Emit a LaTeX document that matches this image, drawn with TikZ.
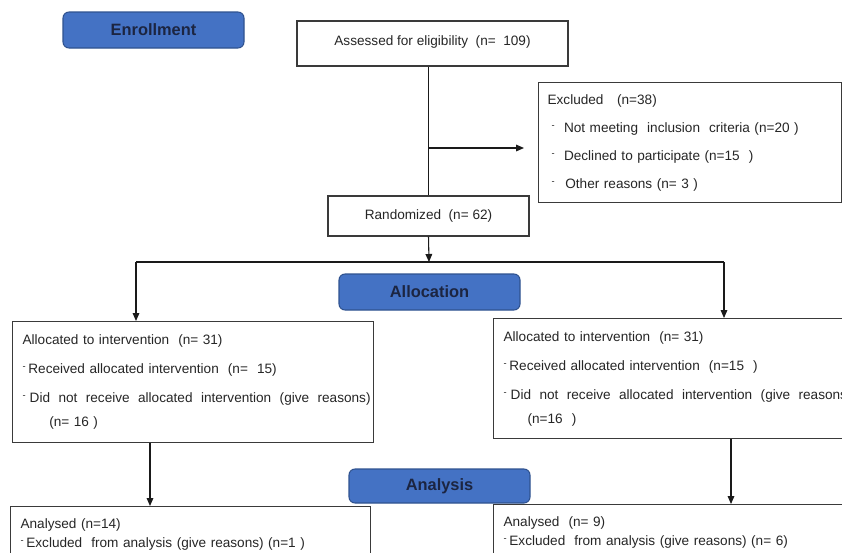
\documentclass[tikz,border=0pt]{standalone}
\usepackage{fontspec}
\setmainfont{Liberation Sans}
\usepackage{xcolor}
\usepackage{tikz}
\usetikzlibrary{positioning, arrows.meta, calc}
\definecolor{stageFill}{HTML}{4472C4}
\definecolor{stageEdge}{HTML}{2F528F}
\definecolor{stageText}{HTML}{1C2541}
\definecolor{boxEdge}{HTML}{3A3A3A}
\definecolor{lineInk}{HTML}{1A1A1A}
\definecolor{bodyText}{HTML}{262626}
\newcommand{\dsh}{\raisebox{0.55ex}{\fontsize{7}{7}\selectfont -}}
\newcommand{\widesp}[1]{\mbox{\spaceskip=0.62em plus 0.1em\relax #1}}

\begin{document}
\begin{tikzpicture}[x=0.75pt, y=-0.75pt,
  every node/.style={font=\fontsize{10.2}{21.75}\selectfont, text=bodyText},
  stage/.style={rectangle, rounded corners=4.5pt, draw=stageEdge, fill=stageFill,
              line width=0.8pt, minimum width=135.75pt, minimum height=27pt,
              font=\bfseries\fontsize{12.3}{14}\selectfont, text=stageText, inner sep=0pt},
  flowbox/.style={rectangle, draw=boxEdge, line width=0.9pt, inner sep=0pt, align=center},
  listbox/.style={rectangle, draw=boxEdge, line width=0.9pt, align=left,
              inner xsep=7.5pt, inner ysep=0pt, anchor=north west},
  link/.style={draw=lineInk, line width=0.8pt},
  arr/.style={->, >={Triangle[length=6pt, width=5pt]}, lineInk, line width=0.8pt},
]
  \path[use as bounding box] (0,0) rectangle (842,553);
  \clip (0,0) rectangle (842,553);
  \fill[white] (0,0) rectangle (842,553);

  \coordinate (split) at (429,148);
  \coordinate (fork)  at (429,262);
  \coordinate (forkL) at (136,262);
  \coordinate (forkR) at (724,262);
  \coordinate (dropL) at (150,0);
  \coordinate (dropR) at (731,0);

  % stage labels
  \node[stage] at (153.5,30)  (enroll)   {Enrollment};
  \node[stage] at (429.5,292) (allocate) {Allocation};
  \node[stage, minimum height=25.5pt] at (439.5,486) (analyse) {Analysis};

  % enrollment
  \node[flowbox, minimum width=203.25pt, minimum height=33.75pt] at (432.5,43.5) (assess)
        {\raisebox{4pt}{Assessed for eligibility~ (n=~ 109)}};
  \node[flowbox, minimum width=150.75pt, minimum height=30pt] at (428.5,216) (rand)
        {Randomized~ (n= 62)};
  \node[listbox, text width=213.75pt, minimum height=90pt, inner xsep=6.75pt,
        font=\fontsize{10.2}{21}\selectfont] at (538,82) (excl)
        {Excluded~~ (n=38)\\
         \hspace*{3pt}\dsh\hspace{7pt}Not meeting~ inclusion~ criteria (n=20 )\\
         \hspace*{3pt}\dsh\hspace{7pt}Declined to participate (n=15~ )\\
         \hspace*{3pt}\dsh\hspace{8pt}Other reasons (n= 3 )};

  % allocation
  \node[listbox, text width=255.75pt, minimum height=90.75pt] at (12,321) (allocL)
        {Allocated to intervention~ (n= 31)\\
         \dsh\hspace{2pt}Received allocated intervention~ (n=~ 15)\\
         \dsh\hspace{3pt}\widesp{Did not receive allocated intervention (give reasons)}\\[-3.75pt]
         \hspace*{20pt}(n= 16 )};
  \node[listbox, text width=255pt, minimum height=90pt] at (493,318) (allocR)
        {Allocated to intervention~ (n= 31)\\
         \dsh\hspace{2pt}Received allocated intervention~ (n=15~ )\\
         \dsh\hspace{3pt}\widesp{Did not receive allocated intervention (give reasons)}\\[-3.75pt]
         \hspace*{18pt}(n=16~ )};

  % analysis
  \node[listbox, text width=255pt, minimum height=42pt,
        font=\fontsize{10.2}{14.6}\selectfont] at (10,506) (analysedL)
        {Analysed (n=14)\\
         \dsh\hspace{2pt}Excluded~ from analysis (give reasons) (n=1 )};
  \node[listbox, text width=255pt, minimum height=42pt,
        font=\fontsize{10.2}{14.6}\selectfont] at (493,504) (analysedR)
        {Analysed~ (n= 9)\\
         \dsh\hspace{2pt}Excluded~ from analysis (give reasons) (n= 6)};

  \draw[link] (rand.north |- assess.south) -- (rand.north);
  \draw[arr] (split) -- ([xshift=-10.5pt]excl.west |- split);
  \draw[arr] (rand.south) -- (fork);
  \draw[link] (forkL) -- (forkR);
  \draw[arr] (forkL) -- (forkL |- allocL.north);
  \draw[arr] (forkR) -- (forkR |- allocR.north);
  \draw[arr] (allocL.south -| dropL) -- (analysedL.north -| dropL);
  \draw[arr] (allocR.south -| dropR) -- (analysedR.north -| dropR);
\end{tikzpicture}
\end{document}
